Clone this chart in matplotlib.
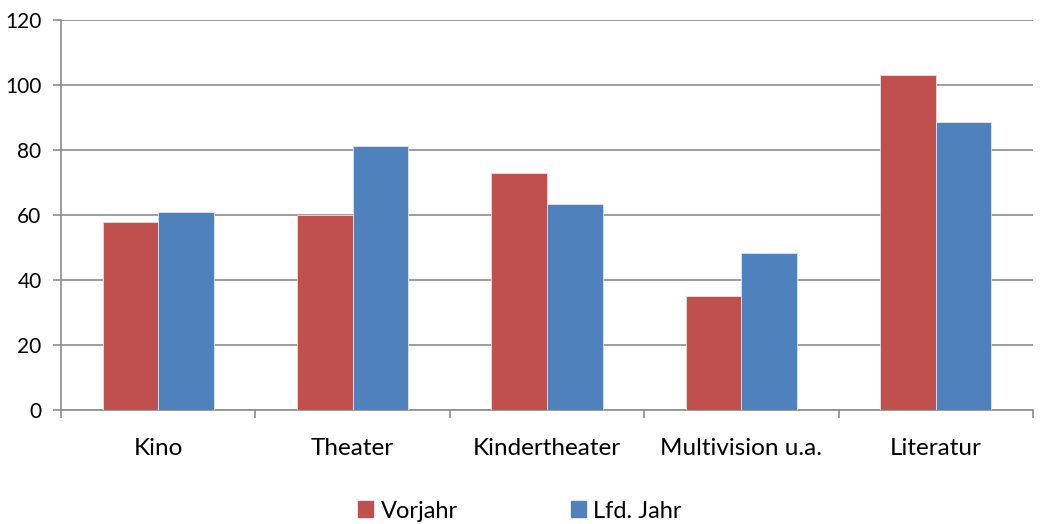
import numpy as np
import matplotlib.pyplot as plt
from matplotlib.patches import Patch

categories = ["Kino", "Theater", "Kindertheater", "Multivision u.a.", "Literatur"]
vorjahr = [58, 60, 73, 35, 103]
lfd_jahr = [61, 81.2, 63.4, 48.4, 88.5]
series_names = ["Vorjahr", "Lfd. Jahr"]
yticks = [0, 20, 40, 60, 80, 100, 120]

red = "#C0504D"
blue = "#4F81BD"
grid_col = "#8C8C8C"

plt.rcParams['font.family'] = ['Lato', 'DejaVu Sans']

fig = plt.figure(figsize=(10.4, 5.24), dpi=100)
ax = fig.add_axes([61 / 1040, 1 - 410 / 524, (1033 - 61) / 1040, 390 / 524])

x = np.arange(len(categories))
w = 1 / 3.5
ax.bar(x - w / 2, vorjahr, width=w, color=red, edgecolor="#F2DCDB", linewidth=0.6, zorder=3)
ax.bar(x + w / 2, lfd_jahr, width=w, color=blue, edgecolor="#DCE6F2", linewidth=0.6, zorder=3)

ax.set_xlim(-0.5, len(categories) - 0.5)
ax.set_ylim(0, 120)
ax.set_yticks(yticks)
ax.set_yticklabels([str(t) for t in yticks], fontsize=15)
ax.yaxis.grid(True, color=grid_col, linewidth=1.2, zorder=0)

ax.set_xticks(np.arange(len(categories) + 1) - 0.5)
ax.set_xticklabels([])
ax.set_xticks(x, minor=True)
ax.set_xticklabels(categories, minor=True, fontsize=17.5)
ax.tick_params(axis="x", which="minor", length=0, pad=20)
ax.tick_params(axis="x", which="major", length=6, color=grid_col, width=1.2)
ax.tick_params(axis="y", length=6, color=grid_col, width=1.2, pad=8)

for side in ["top", "right"]:
    ax.spines[side].set_visible(False)
for side in ["left", "bottom"]:
    ax.spines[side].set_color(grid_col)
    ax.spines[side].set_linewidth(1.2)

handles = [Patch(color=red), Patch(color=blue)]
fig.legend(handles, series_names, loc="center", bbox_to_anchor=(0.5, 1 - 511 / 524),
           ncol=2, frameon=False, fontsize=17, handlelength=0.65, handleheight=0.65,
           handletextpad=0.3, columnspacing=4.8)

fig.savefig("out.png", dpi=100)
